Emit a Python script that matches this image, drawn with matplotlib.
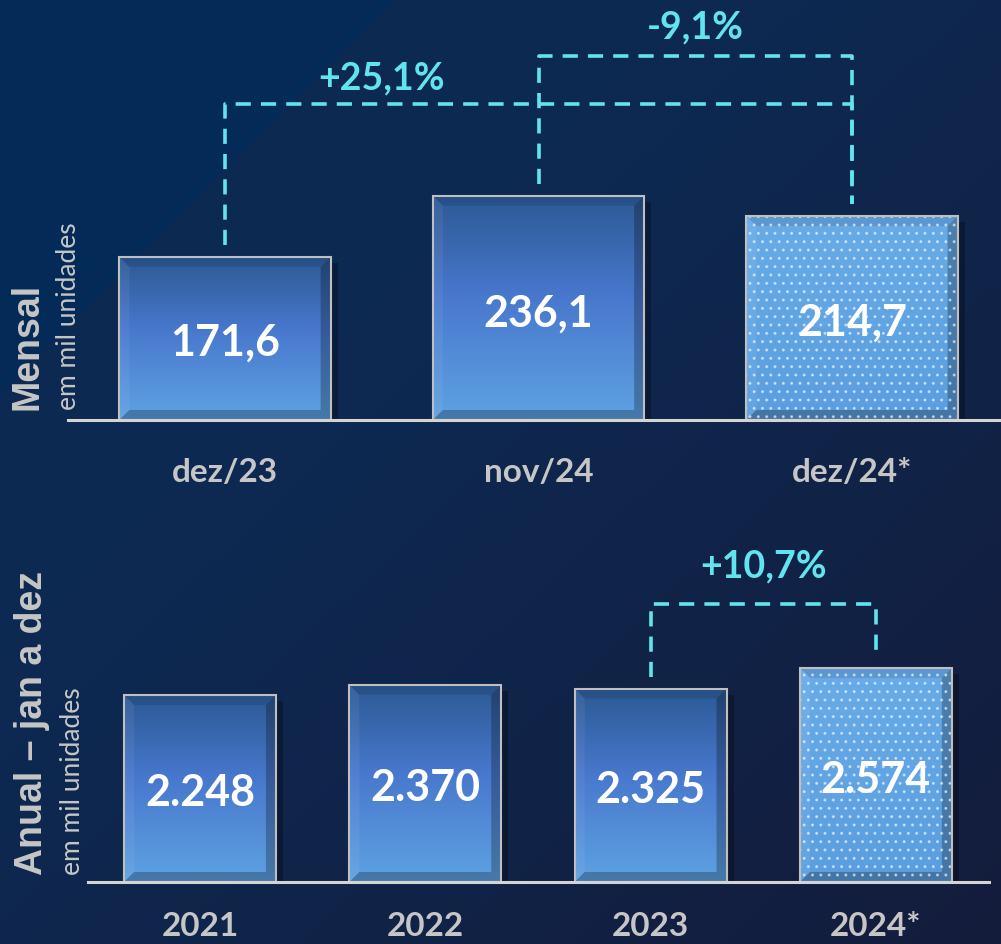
import numpy as np
import matplotlib.pyplot as plt
from matplotlib.patches import Polygon, Rectangle
from matplotlib.colors import to_rgb

# ---- data -------------------------------------------------------------
mensal_labels = ['dez/23', 'nov/24', 'dez/24*']
mensal_values = [171.6, 236.1, 214.7]
mensal_text = ['171,6', '236,1', '214,7']
mensal_dotted = [False, False, True]
mensal_brackets = [(0, 2, '+25,1%'), (1, 2, '-9,1%')]

anual_labels = ['2021', '2022', '2023', '2024*']
anual_values = [2248, 2370, 2325, 2574]
anual_text = ['2.248', '2.370', '2.325', '2.574']
anual_dotted = [False, False, False, True]
anual_brackets = [(2, 3, '+10,7%')]

# ---- style ------------------------------------------------------------
W, H = 1001, 945
CYAN = '#62e4ee'
GREY = '#c6c6c6'
BAR_W = 0.674
NUM_FONT = 'Lato'
TITLE_FONT = 'Liberation Sans'


def lerp(c0, c1, t):
    c0, c1 = np.array(to_rgb(c0)), np.array(to_rgb(c1))
    return c0 + (c1 - c0) * t


def make_background(ax):
    '''
    Dark navy backdrop with a slightly bluer corner on the top left
    '''
    yy, xx = np.mgrid[0:H, 0:W]
    t = np.clip(((xx / W + yy / H) / 2 - 0.35) / 0.65, 0, 1)[..., None]
    img = lerp('#0d2a53', '#141c3b', t)
    corner = (xx + yy) < 394
    img[corner] = lerp('#032c58', '#0d2a53', 0.15)
    ax.imshow(img, extent=[0, 1, 0, 1], aspect='auto', origin='upper')
    ax.set_xlim(0, 1)
    ax.set_ylim(0, 1)
    ax.axis('off')


def px_scale(ax):
    p0 = ax.transData.transform((0, 0))
    p1 = ax.transData.transform((1, 1))
    return p1[0] - p0[0], p1[1] - p0[1]


def draw_bars(ax, values, dotted, texts):
    '''
    Bevelled bars with a vertical gradient, dotted for the estimate
    '''
    x = np.arange(len(values))
    bars = ax.bar(x, values, width=BAR_W, color='none',
                  edgecolor='#bfbfbf', linewidth=1.5, zorder=6)
    sx, sy = px_scale(ax)
    bx, by = 10 / sx, 10 / sy
    grad_n = np.linspace(0, 1, 200)
    for bar, dot, txt in zip(bars, dotted, texts):
        x0 = bar.get_x()
        x1 = x0 + bar.get_width()
        v = bar.get_height()
        # shadow on the right
        ax.add_patch(Rectangle((x1, 0), 7 / sx, v - 6 / sy, color='black',
                               alpha=0.28, lw=0, zorder=2))
        if dot:
            cols = [lerp('#5a9ee0', '#68abe8', t) for t in grad_n]
        else:
            cols = []
            for t in grad_n:
                if t < 0.55:
                    cols.append(lerp('#5ea2e2', '#4878cd', t / 0.55))
                else:
                    cols.append(lerp('#4878cd', '#2c5994', (t - 0.55) / 0.45))
        img = np.array(cols)[:, None, :]
        ax.imshow(img, extent=[x0, x1, 0, v], origin='lower',
                  aspect='auto', zorder=3)
        # bevel
        bevels = [
            ([(x0, v), (x1, v), (x1 - bx, v - by), (x0 + bx, v - by)], 'black', 0.10),
            ([(x0, 0), (x0, v), (x0 + bx, v - by), (x0 + bx, by)], 'white', 0.06),
            ([(x1, 0), (x1, v), (x1 - bx, v - by), (x1 - bx, by)], 'black', 0.25),
            ([(x0, 0), (x1, 0), (x1 - bx, by), (x0 + bx, by)], 'black', 0.25),
        ]
        for pts, c, a in bevels:
            ax.add_patch(Polygon(pts, closed=True, color=c, alpha=a, lw=0, zorder=4))
        if dot:
            ax.add_patch(Rectangle((x0, 0), x1 - x0, v, facecolor='none',
                                   edgecolor=(1, 1, 1, 0.5), hatch='..',
                                   lw=0, zorder=5))
        ax.text(x0 + (x1 - x0) / 2, v * 0.48, txt, ha='center', va='center',
                color='white', fontsize=31, fontweight='bold',
                family=NUM_FONT, zorder=7)


def draw_bracket(ax, i0, i1, label, values, level, text_x, text_y):
    sx, sy = px_scale(ax)
    gap = 12 / sy
    xs = [i0, i0, i1, i1]
    ys = [values[i0] + gap, level, level, values[i1] + gap]
    ax.plot(xs, ys, color=CYAN, lw=2.6, linestyle=(0, (4.2, 2.8)),
            solid_joinstyle='miter', zorder=8, clip_on=False)
    ax.text(text_x, text_y, label, ha='center', va='center', color=CYAN,
            fontsize=27, fontweight='bold', family=NUM_FONT, zorder=8)


def style_axis(ax, labels, pad):
    ax.patch.set_alpha(0)
    for s in ax.spines.values():
        s.set_visible(False)
    ax.set_yticks([])
    ax.set_xticks(range(len(labels)), labels)
    ax.tick_params(axis='x', length=0, pad=pad, labelsize=24, labelcolor=GREY)
    for lbl in ax.get_xticklabels():
        lbl.set_fontweight('bold')
        lbl.set_family(NUM_FONT)
    ax.axhline(0, color='#d4d4d4', lw=2.2, zorder=9, clip_on=False)


fig = plt.figure(figsize=(W / 100, H / 100), dpi=100)
bg = fig.add_axes([0, 0, 1, 1], zorder=-5)
make_background(bg)

# ---- monthly panel ----
ax1 = fig.add_axes([68 / W, (H - 421) / H, (W - 68) / W, 421 / H])
ax1.set_xlim((68 - 225) / 313.5, (W - 225) / 313.5)
ax1.set_ylim(0, 421 / 0.95)
style_axis(ax1, mensal_labels, pad=27)
draw_bars(ax1, mensal_values, mensal_dotted, mensal_text)
draw_bracket(ax1, *mensal_brackets[0], mensal_values, level=333,
             text_x=0.5, text_y=361)
draw_bracket(ax1, *mensal_brackets[1], mensal_values, level=383,
             text_x=1.5, text_y=414)
ax1.set_xlim((68 - 225) / 313.5, (W - 225) / 313.5)
ax1.set_ylim(0, 421 / 0.95)

# ---- annual panel ----
ax2 = fig.add_axes([88 / W, (H - 883) / H, (989 - 88) / W, 363 / H])
ax2.set_xlim((88 - 200) / 225.3, (989 - 200) / 225.3)
ax2.set_ylim(0, 363 / 0.0832)
style_axis(ax2, anual_labels, pad=21)
draw_bars(ax2, anual_values, anual_dotted, anual_text)
draw_bracket(ax2, *anual_brackets[0], anual_values, level=3341,
             text_x=2.5, text_y=3800)
ax2.set_xlim((88 - 200) / 225.3, (989 - 200) / 225.3)
ax2.set_ylim(0, 363 / 0.0832)

# ---- side titles ----
fig.text(27 / W, 1 - 410 / H, 'Mensal', rotation=90, ha='center', va='bottom',
         color=GREY, fontsize=27, fontweight='bold', family=TITLE_FONT)
fig.text(68 / W, 1 - 410 / H, 'em mil unidades', rotation=90, ha='center',
         va='bottom', color=GREY, fontsize=19, family=NUM_FONT)
fig.text(32 / W, 1 - 875 / H, 'Anual \u2013 jan a dez', rotation=90,
         ha='center', va='bottom', color=GREY, fontsize=27, fontweight='bold',
         family=TITLE_FONT)
fig.text(72 / W, 1 - 875 / H, 'em mil unidades', rotation=90, ha='center',
         va='bottom', color=GREY, fontsize=19, family=NUM_FONT)

fig.savefig('out.png', dpi=100, facecolor='#0d2a53')
